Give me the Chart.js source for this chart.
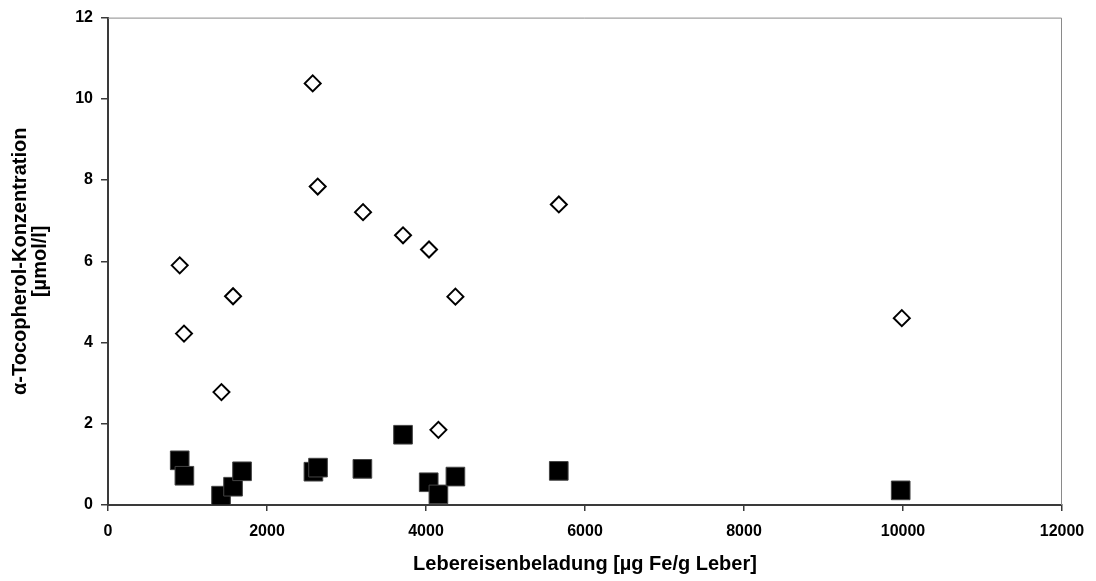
<!DOCTYPE html>
<html>
<head>
<meta charset="utf-8">
<script src="https://cdn.jsdelivr.net/npm/chart.js@4"></script>
<style>
  html, body { margin: 0; padding: 0; background: #fff; }
  #wrap { width: 1096px; height: 581px; }
</style>
</head>
<body>
<div id="wrap"><canvas id="c" width="1096" height="581"></canvas></div>
<script>
// Liver iron load (µg Fe/g liver) and α-tocopherol concentration (µmol/l)
const diamondIron = [902, 956, 1427, 1573, 2575, 2638, 3208, 3711, 4038, 4156, 4370, 5671, 9985];
const diamondToco = [5.90, 4.22, 2.78, 5.14, 10.38, 7.84, 7.21, 6.64, 6.29, 1.85, 5.13, 7.40, 4.60];
const squareIron = [902, 961, 1422, 1573, 1686, 2584, 2642, 3200, 3711, 4034, 4156, 4370, 5670, 9971];
const squareToco = [1.10, 0.72, 0.23, 0.45, 0.83, 0.82, 0.92, 0.89, 1.73, 0.56, 0.26, 0.70, 0.84, 0.36];
const xTicks = [0, 2000, 4000, 6000, 8000, 10000, 12000];
const yTicks = [0, 2, 4, 6, 8, 10, 12];

const toPoints = (xs, ys) => xs.map((x, i) => ({ x: x, y: ys[i] }));

const FONT = '"Liberation Sans", Arial, Helvetica, sans-serif';

// thin grey frame on the top and right of the plot area
const frame = {
  id: 'frame',
  beforeDatasetsDraw(chart) {
    const { ctx, chartArea: a } = chart;
    ctx.save();
    ctx.strokeStyle = '#8a8a8a';
    ctx.lineWidth = 1;
    ctx.beginPath();
    ctx.moveTo(a.left, a.top + 0.5);
    ctx.lineTo(a.right - 0.5, a.top + 0.5);
    ctx.lineTo(a.right - 0.5, a.bottom);
    ctx.stroke();
    ctx.restore();
  }
};

new Chart(document.getElementById('c'), {
  type: 'scatter',
  data: {
    datasets: [
      {
        label: 'α-Tocopherol',
        data: toPoints(diamondIron, diamondToco),
        pointStyle: 'rectRot',
        pointRadius: 8,
        pointHoverRadius: 8,
        borderWidth: 2,
        borderColor: '#000',
        backgroundColor: '#fff'
      },
      {
        label: 'α-Tocopherol',
        data: toPoints(squareIron, squareToco),
        pointStyle: 'rect',
        pointRadius: 13.2,
        pointHoverRadius: 13.2,
        borderWidth: 1,
        borderColor: '#444',
        backgroundColor: '#000'
      }
    ]
  },
  options: {
    responsive: false,
    animation: false,
    devicePixelRatio: 1,
    layout: { padding: { top: 15, right: 34, bottom: 0, left: 0 } },
    plugins: { legend: { display: false }, tooltip: { enabled: false } },
    scales: {
      x: {
        type: 'linear',
        min: 0, max: 12000,
        afterBuildTicks(scale) { scale.ticks = xTicks.map(v => ({ value: v })); },
        afterFit(scale) { scale.height = 76; },
        border: { display: true, color: '#3a3a3a', width: 2 },
        grid: { drawOnChartArea: false, drawTicks: true, tickLength: 6, color: '#3a3a3a', lineWidth: 1.5 },
        ticks: {
          color: '#000', padding: 11, maxRotation: 0,
          callback: v => String(v),
          font: { family: FONT, size: 16, weight: 'bold' }
        },
        title: {
          display: true,
          text: 'Lebereisenbeladung [µg Fe/g Leber]',
          color: '#000',
          padding: { top: 0, bottom: 7 },
          font: { family: FONT, size: 20, weight: 'bold', lineHeight: 1.0 }
        }
      },
      y: {
        type: 'linear',
        min: 0, max: 12,
        afterBuildTicks(scale) { scale.ticks = yTicks.map(v => ({ value: v })); },
        afterFit(scale) { scale.width = 108; },
        border: { display: true, color: '#3a3a3a', width: 2 },
        grid: { drawOnChartArea: false, drawTicks: true, tickLength: 7, color: '#3a3a3a', lineWidth: 1.5 },
        ticks: { color: '#000', padding: 8, font: { family: FONT, size: 16, weight: 'bold' } },
        title: {
          display: true,
          text: ['α-Tocopherol-Konzentration', '[µmol/l]'],
          color: '#000',
          padding: { top: 10, bottom: 0 },
          font: { family: FONT, size: 20, weight: 'bold', lineHeight: 1.0 }
        }
      }
    }
  },
  plugins: [frame]
});
</script>
</body>
</html>
